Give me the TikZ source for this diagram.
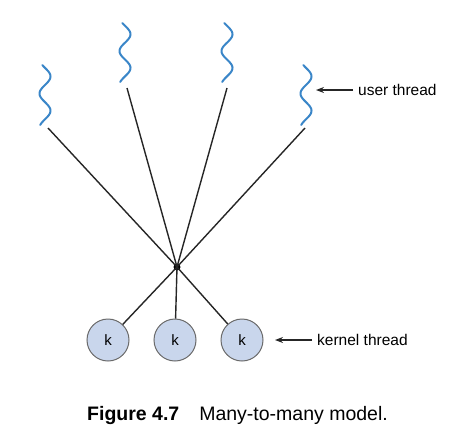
\documentclass[tikz,border=0pt]{standalone}
\usepackage{fontspec}
\setmainfont{Liberation Sans}
\usetikzlibrary{arrows.meta}
\definecolor{wavblue}{HTML}{3A86C8}
\definecolor{kfill}{HTML}{C9D6EC}
\definecolor{kdraw}{HTML}{6A6A6A}
\tikzset{
  wave/.style={wavblue, line width=2pt, line cap=round},
  conn/.style={black!85, line width=1.4pt},
  kthread/.style={circle, draw=kdraw, fill=kfill, line width=1pt, minimum size=42pt, inner sep=0pt, font=\fontsize{15}{18}\selectfont},
  lbl/.style={font=\fontsize{15.5}{18}\selectfont, anchor=west, inner sep=0pt},
  pointer/.style={-{Stealth[length=8pt,width=6pt]}, line width=1.3pt, black!85}
}
\begin{document}
\begin{tikzpicture}[x=1pt,y=-1pt]
\useasboundingbox (0,0) rectangle (458,437);
% user threads (wavy)
\foreach \n/\cx/\ty/\by in {u1/45/65/125, u2/125/23/82, u3/227/23/82, u4/306/65/125}{
  \draw[wave] plot[domain=0:1, samples=80, smooth] ({\cx + 5.5*sin(1.75*360*\x - 30)}, {\ty + (\by-\ty)*\x});
}
\coordinate (b1) at (48,128);
\coordinate (b2) at (127,88);
\coordinate (b3) at (227,88);
\coordinate (b4) at (305,128);
\node[circle, fill=black, inner sep=0pt, minimum size=7pt] (hub) at (177,267) {};
\node[kthread] (k1) at (108,340) {k};
\node[kthread] (k2) at (175,340) {k};
\node[kthread] (k3) at (242,340) {k};
\foreach \b in {b1,b2,b3,b4} \draw[conn] (\b) -- (hub.center);
\foreach \k in {k1,k2,k3} \draw[conn] (hub.center) -- (\k);
% labels
\node[lbl] (ut) at (358,90) {user thread};
\coordinate (uta) at (316,90);
\draw[pointer] ([xshift=-5pt]ut.west) -- (uta);
\node[lbl] (kt) at (317,340) {kernel thread};
\coordinate (kta) at (275,340);
\draw[pointer] ([xshift=-5pt]kt.west) -- (kta);
% caption
\node[anchor=west, inner sep=0pt, font=\fontsize{19.5}{22}\selectfont] (cap) at (87,415) {\textbf{Figure 4.7}\hspace{20pt}Many-to-many model.};
\end{tikzpicture}
\end{document}
